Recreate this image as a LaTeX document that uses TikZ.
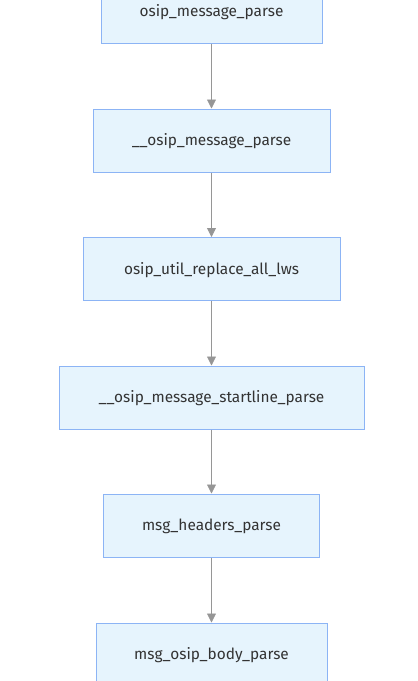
\documentclass[tikz,border=0pt]{standalone}
\usepackage{fontspec}
\setmainfont{Fira Sans}
\usetikzlibrary{arrows.meta}
\definecolor{boxfill}{RGB}{230,244,253}
\definecolor{boxline}{RGB}{140,180,245}
\definecolor{edgecol}{RGB}{150,150,150}
\definecolor{txtcol}{RGB}{51,51,51}
\tikzset{
  fn/.style={draw=boxline, fill=boxfill, line width=1pt, rectangle, minimum height=63pt, inner sep=0pt, text height=11pt, text depth=0.5pt, text=txtcol, font=\fontsize{15.4}{18}\selectfont},
  flow/.style={draw=edgecol, line width=0.8pt, -{Triangle[width=9pt,length=9pt,fill=edgecol]}}
}
\begin{document}
\begin{tikzpicture}[x=1pt,y=-1pt]
\useasboundingbox (0,0) rectangle (418,681);
\node[fn, minimum width=221pt] (a) at (211.5,11.5) {osip\_message\_parse};
\node[fn, minimum width=237pt] (b) at (211.5,140.5) {\_\_osip\_message\_parse};
\node[fn, minimum width=257pt] (c) at (211.5,269) {osip\_util\_replace\_all\_lws};
\node[fn, minimum width=305pt] (d) at (211.5,397.5) {\_\_osip\_message\_startline\_parse};
\node[fn, minimum width=216pt] (e) at (211.5,525.5) {msg\_headers\_parse};
\node[fn, minimum width=231pt] (f) at (211.5,654.5) {msg\_osip\_body\_parse};
\draw[flow] (a) -- (b);
\draw[flow] (b) -- (c);
\draw[flow] (c) -- (d);
\draw[flow] (d) -- (e);
\draw[flow] (e) -- (f);
\end{tikzpicture}
\end{document}
